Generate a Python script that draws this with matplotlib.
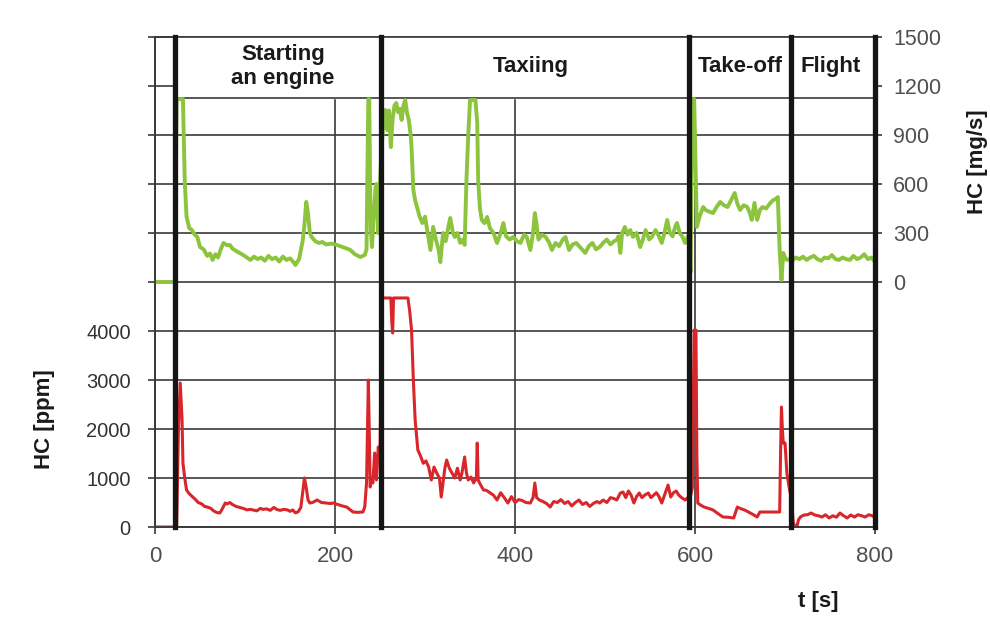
import matplotlib.pyplot as plt

plt.rcParams['font.family'] = ['Liberation Sans', 'DejaVu Sans']

# HC concentration [ppm] (left axis)
t_ppm = [0, 22, 24, 26, 28, 30, 31, 33, 35, 38, 42, 45, 48, 52, 55, 58, 62, 65, 68, 72,
         75, 78, 80, 83, 86, 90, 94, 98, 102, 106, 109, 113, 117, 120, 124, 128, 132, 135, 139, 143,
         147, 150, 153, 156, 159, 162, 164, 166, 168, 170, 172, 175, 180, 185, 190, 195, 198, 203, 208, 213,
         217, 220, 225, 231, 233, 235, 237, 238, 239, 241, 242, 244, 246, 248, 250,
         252, 262, 263, 264, 265, 281, 283, 285, 287, 289, 292, 295, 298, 301, 304, 307, 310, 313, 316, 318,
         320, 322, 324, 327, 330, 333, 336, 339, 341, 344, 346, 348, 351, 354, 357, 358, 359, 362, 365, 368,
         372, 376, 380, 384, 388, 392, 396, 400, 404, 408, 412, 417, 420, 422, 424, 427, 431, 435, 439, 443,
         447, 451, 455, 459, 463, 467, 471, 475, 479, 483, 487, 491, 494, 498, 502, 506, 510, 513, 517, 520,
         523, 526, 529, 532, 535, 538, 541, 544, 548, 551, 554, 557, 560, 563, 566, 570, 573, 576, 579, 582,
         585, 589, 592,
         594, 597, 599, 601, 602, 603, 606, 610, 615, 620, 625, 631, 637, 643, 645, 647, 650, 655, 660, 665,
         669, 672, 680, 688, 694, 695, 696, 697, 698, 700, 702, 705, 707,
         709, 711, 713, 715, 717, 721, 725, 729, 733, 737, 741, 745, 749, 753, 757, 761, 765, 769, 773, 777,
         781, 785, 789, 793, 797, 799]
hc_ppm = [0, 0, 0, 2000, 2939, 2200, 1306, 1000, 755, 680, 612, 560, 500, 470, 420, 408, 380, 330, 300, 286,
          380, 490, 470, 500, 460, 420, 400, 380, 350, 360, 347, 330, 380, 360, 370, 340, 400, 360, 340, 360,
          350, 320, 347, 290, 310, 400, 700, 1000, 800, 551, 490, 500, 551, 500, 490, 480, 490, 460, 430, 408,
          350, 306, 300, 306, 408, 900, 3000, 2000, 816, 1000, 900, 1510, 959, 1633, 1500,
          4674, 4674, 4200, 3960, 4674, 4674, 4400, 4020, 3000, 2184, 1572, 1450, 1300, 1350, 1224, 959, 1224, 1100, 1000, 612,
          900, 1200, 1367, 1200, 1100, 1000, 1200, 959, 1100, 1429, 1100, 959, 1020, 900, 1000, 1714, 959, 850, 755, 750,
          700, 650, 551, 700, 600, 490, 620, 500, 560, 540, 500, 490, 600, 898, 600, 551, 520, 480, 408, 520,
          500, 560, 480, 520, 430, 500, 551, 460, 500, 420, 480, 520, 490, 551, 500, 600, 580, 551, 694, 714,
          600, 735, 650, 490, 620, 694, 600, 650, 694, 600, 650, 700, 620, 490, 650, 857, 612, 700, 735, 650,
          600, 551, 600,
          550, 800, 4020, 4020, 1500, 490, 450, 408, 380, 347, 280, 204, 200, 184, 300, 408, 380, 347, 300, 250,
          204, 306, 306, 306, 306, 1500, 2449, 2000, 1714, 1714, 1102, 755, 600,
          100, 0, 0, 150, 204, 245, 250, 286, 245, 230, 204, 250, 184, 230, 200, 286, 230, 184, 245, 204,
          250, 230, 204, 250, 230, 204]

# HC emission [mg/s] (right axis)
t_mgs = [0, 21, 22, 24, 31, 33, 35, 38, 41, 44, 47, 50, 54, 58, 61, 64, 67, 70, 73, 76,
         80, 83, 86, 90, 94, 98, 102, 106, 110, 114, 118, 122, 126, 130, 134, 138, 142, 146, 150, 154,
         156, 160, 164, 166, 168, 170, 172, 174, 178, 182, 186, 190, 196, 202, 208, 213, 217, 222, 228, 233,
         235, 236, 237, 238, 239, 240, 241, 243, 245, 246, 248, 250,
         252, 254, 256, 258, 260, 262, 264, 266, 268, 270, 272, 274, 276, 278, 280, 282, 284, 285, 287, 289,
         291, 294, 297, 300, 303, 306, 309, 312, 315, 317, 320, 323, 326, 328, 331, 333, 336, 339, 342, 344,
         346, 348, 350, 353, 356, 358, 359, 361, 363, 366, 369, 372, 376, 380, 384, 387, 390, 394, 398, 402,
         406, 410, 413, 417, 420, 422, 424, 426, 430, 434, 438, 441, 445, 449, 453, 456, 460, 464, 468, 472,
         478, 482, 486, 490, 494, 498, 502, 506, 510, 513, 515, 517, 519, 522, 525, 528, 531, 535, 539, 542,
         545, 549, 552, 556, 559, 563, 566, 569, 572, 575, 578, 580, 583, 586, 589, 592,
         593, 595, 597, 599, 601, 602, 605, 609, 612, 616, 620, 624, 628, 632, 636, 640, 644, 647, 650, 654,
         658, 661, 663, 666, 669, 672, 675, 679, 683, 687, 690, 692, 694, 696, 698, 700, 702, 706,
         708, 712, 716, 720, 724, 728, 732, 736, 740, 744, 748, 752, 756, 760, 764, 768, 772, 776, 780, 784,
         788, 792, 796, 799]
hc_mgs = [0, 0, 0, 1120, 1120, 620, 400, 330, 318, 290, 276, 214, 200, 160, 175, 135, 170, 150, 200, 239,
          225, 227, 205, 190, 178, 165, 150, 135, 155, 140, 150, 130, 160, 140, 150, 125, 155, 135, 145, 120,
          104, 140, 250, 350, 490, 420, 300, 276, 250, 239, 245, 230, 235, 227, 215, 205, 196, 170, 153, 165,
          200, 700, 1120, 1120, 600, 300, 214, 400, 580, 600, 300, 620,
          850, 1000, 1053, 930, 1050, 826, 1000, 1080, 1096, 1040, 1060, 992, 1080, 1114, 1035, 990, 900, 826, 563, 500,
          459, 400, 361, 400, 300, 196, 337, 260, 200, 122, 300, 250, 340, 392, 300, 276, 300, 240, 260, 227,
          624, 900, 1114, 1114, 1114, 973, 624, 450, 380, 360, 398, 331, 300, 239, 300, 361, 280, 260, 276, 250,
          239, 290, 276, 196, 300, 422, 350, 260, 290, 276, 240, 196, 239, 220, 260, 276, 196, 230, 239, 215,
          178, 220, 239, 200, 214, 240, 260, 230, 250, 257, 280, 178, 300, 337, 290, 318, 276, 300, 214, 260,
          318, 260, 276, 318, 290, 239, 300, 380, 300, 280, 340, 361, 300, 276, 239, 280,
          250, 60, 1120, 1120, 600, 337, 400, 459, 440, 430, 422, 460, 490, 470, 459, 500, 545, 480, 441, 470,
          459, 420, 380, 484, 380, 440, 459, 450, 480, 502, 510, 520, 196, 12, 178, 150, 135, 140,
          130, 150, 140, 155, 135, 150, 160, 140, 130, 150, 145, 165, 140, 135, 150, 140, 135, 160, 140, 150,
          170, 140, 150, 130]

phase_bounds = [22, 251, 593, 707, 800]
phase_names = ['Starting\nan engine', 'Taxiing', 'Take-off', 'Flight']
phase_centers = [142, 417, 650, 751]

fig = plt.figure(figsize=(9.9, 6.28), dpi=100)
ax = fig.add_axes([0.1566, 0.1608, 0.7273, 0.7803])
ax2 = ax.twinx()

grid_c = '#3a3a3a'
tick_c = '#505050'

ax.plot(t_ppm, hc_ppm, color='#d8262b', lw=2.2, zorder=3)
ax2.plot(t_mgs, hc_mgs, color='#8cc43e', lw=2.8, zorder=2)

ax.set_xlim(0, 800)
ax.set_ylim(0, 10000)
ax2.set_ylim(-1500, 1500)

ax.set_xticks([0, 200, 400, 600, 800])
ax.set_yticks(range(0, 10001, 1000))
ax.set_yticklabels([str(v) if v <= 4000 else '' for v in range(0, 10001, 1000)])
ax2.set_yticks(range(0, 1501, 300))

ax.grid(True, color=grid_c, lw=1.2)
ax.set_axisbelow(True)

ax.tick_params(axis='y', labelsize=14.5, labelcolor='#333333', color=grid_c, length=5, width=1.2, pad=12.5)
ax.tick_params(axis='x', labelsize=16, labelcolor=tick_c, color=grid_c, length=5, width=1.2, pad=9)
ax2.tick_params(axis='y', labelsize=15.5, labelcolor=tick_c, color=grid_c, length=5, width=1.2, pad=8)

for a in (ax, ax2):
    for s in a.spines.values():
        s.set_color(grid_c)
        s.set_linewidth(1.2)

# label boxes for the phases
ax2.fill_between([22, 800], 1127, 1500, color='white', zorder=1.5)
ax2.hlines(1127, 22, 800, color=grid_c, lw=1.2, zorder=1.6)

for b in phase_bounds:
    ax2.axvline(b, color='#151515', lw=3.8, zorder=4, clip_on=False)

for name, c in zip(phase_names, phase_centers):
    ax2.text(c, 1320, name, ha='center', va='center', fontsize=16,
             fontweight='bold', color='#1a1a1a', zorder=5, linespacing=1.15)

ax.set_ylabel('HC [ppm]', fontsize=16, fontweight='bold', color='#1a1a1a')
ax.yaxis.set_label_coords(-0.139, 0.22)
ax2.set_ylabel('HC [mg/s]', fontsize=16, fontweight='bold', color='#1a1a1a')
ax2.yaxis.set_label_coords(1.127, 0.745)
ax.set_xlabel('t [s]', fontsize=16, fontweight='bold', color='#1a1a1a')
ax.xaxis.set_label_coords(0.921, -0.131)

fig.savefig('out.png', dpi=100, facecolor='white')
